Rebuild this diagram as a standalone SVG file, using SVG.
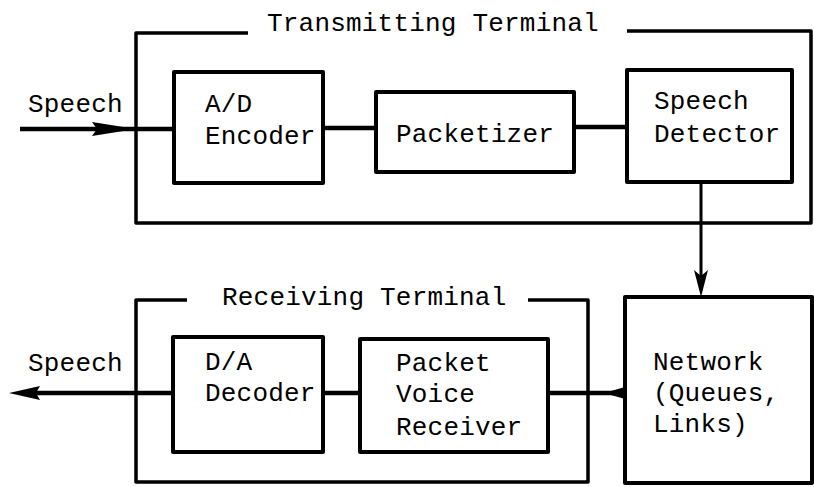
<svg xmlns="http://www.w3.org/2000/svg" width="814" height="487" viewBox="0 0 814 487">
<style>
text{font-family:"Liberation Mono","DejaVu Sans Mono",monospace;font-size:26px;letter-spacing:0.2px;fill:#000}
.box{fill:none;stroke:#000;stroke-width:4;stroke-linejoin:round}
.frame{fill:none;stroke:#000;stroke-width:3.5;stroke-linejoin:round}
.wire{fill:none;stroke:#000;stroke-width:4.5}
.thin{fill:none;stroke:#000;stroke-width:3}
.head{fill:#000;stroke:none}
</style>
<rect width="814" height="487" fill="#fff"/>
<g id="transmitting-terminal">
<path class="frame" d="M248,33 H136 V223 H811 V31 H627"/>
<text x="267" y="31">Transmitting Terminal</text>
</g>
<g id="receiving-terminal">
<path class="frame" d="M187,300 H136 V482 H588 V300 H528"/>
<text x="222" y="305">Receiving Terminal</text>
</g>
<g id="ad-encoder">
<rect class="box" x="174" y="72" width="149" height="111"/>
<text x="205" y="112">A/D</text>
<text x="205" y="144">Encoder</text>
</g>
<g id="packetizer">
<rect class="box" x="376" y="92" width="198" height="80"/>
<text x="396" y="142">Packetizer</text>
</g>
<g id="speech-detector">
<rect class="box" x="627" y="70" width="165" height="112"/>
<text x="654" y="109">Speech</text>
<text x="654" y="142">Detector</text>
</g>
<g id="da-decoder">
<rect class="box" x="173" y="337" width="150" height="115"/>
<text x="205" y="370">D/A</text>
<text x="205" y="401">Decoder</text>
</g>
<g id="packet-voice-receiver">
<rect class="box" x="360" y="339" width="188" height="113"/>
<text x="396" y="371">Packet</text>
<text x="396" y="402">Voice</text>
<text x="396" y="435">Receiver</text>
</g>
<g id="network">
<rect class="box" x="625" y="297" width="187" height="186"/>
<text x="653" y="370">Network</text>
<text x="653" y="401">(Queues,</text>
<text x="653" y="432">Links)</text>
</g>
<g id="connectors">
<text x="28" y="112">Speech</text>
<text x="28" y="371">Speech</text>
<line class="wire" x1="20" y1="129" x2="174" y2="129"/>
<polygon class="head" points="92,122 136,129 92,136 97,129"/>
<line class="wire" x1="323" y1="128" x2="376" y2="128"/>
<line class="wire" x1="574" y1="127" x2="627" y2="127"/>
<line class="thin" x1="701" y1="182" x2="701" y2="290"/>
<polygon class="head" points="694,270 701,297 708,270 701,276"/>
<line class="wire" x1="548" y1="393" x2="625" y2="393"/>
<polygon class="head" points="625,387 604,393 625,399"/>
<line class="wire" x1="323" y1="393" x2="360" y2="393"/>
<line class="wire" x1="30" y1="393" x2="173" y2="393"/>
<polygon class="head" points="40,386 9,393 40,400 36,393"/>
</g>
</svg>
